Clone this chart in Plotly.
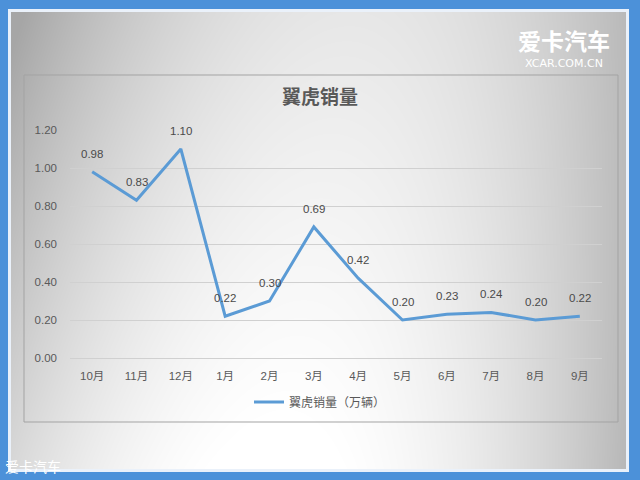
import base64
import struct
import zlib
import numpy as np
import plotly.graph_objects as go

# ---- data ----
months = ["10月", "11月", "12月", "1月", "2月", "3月", "4月", "5月", "6月", "7月", "8月", "9月"]
sales = [0.98, 0.83, 1.10, 0.22, 0.30, 0.69, 0.42, 0.20, 0.23, 0.24, 0.20, 0.22]
series_name = "翼虎销量（万辆）"
chart_title = "翼虎销量"
y_ticks = [0.0, 0.2, 0.4, 0.6, 0.8, 1.0, 1.2]

# ---- geometry helpers (page pixels -> paper coords) ----
W, H = 640, 480
L, R, T, B = 70, 602, 130, 358


def px(x):
    return (x - L) / (R - L)


def py(y):
    return (B - y) / (B - T)


FONT = "Liberation Sans, Noto Sans CJK SC, sans-serif"
CJK = "Noto Sans CJK SC, sans-serif"
TXT = "#595959"

# ---- background gradient panel (smooth grey -> white -> grey) ----
PX0, PY0, PX1, PY1 = 8, 9, 629, 472
bg_samples = np.array([
    (12, 12, 169), (300, 20, 213), (460, 40, 240), (610, 30, 184),
    (20, 250, 192), (320, 250, 255), (610, 250, 174), (40, 450, 229),
    (320, 455, 245), (620, 460, 192), (150, 130, 208), (500, 150, 245),
    (560, 350, 208), (200, 380, 245), (450, 400, 245),
], dtype=float)


def _design(x, y):
    x = x / 640.0
    y = y / 480.0
    return np.stack([np.ones_like(x), x, y, x * x, y * y, x * y], axis=-1)


coef, *_ = np.linalg.lstsq(_design(bg_samples[:, 0], bg_samples[:, 1]), bg_samples[:, 2], rcond=None)
gx, gy = np.meshgrid(np.arange(PX0, PX1) + 0.5, np.arange(PY0, PY1) + 0.5)
grey = np.clip(_design(gx, gy) @ coef, 166, 255).astype(np.uint8)


def png_gray(a):
    h, w = a.shape
    raw = b"".join(b"\x00" + a[i].tobytes() for i in range(h))

    def chunk(t, d):
        c = struct.pack(">I", len(d)) + t + d
        return c + struct.pack(">I", zlib.crc32(t + d) & 0xFFFFFFFF)

    return (b"\x89PNG\r\n\x1a\n" + chunk(b"IHDR", struct.pack(">IIBBBBB", w, h, 8, 0, 0, 0, 0))
            + chunk(b"IDAT", zlib.compress(raw, 9)) + chunk(b"IEND", b""))


src = "data:image/png;base64," + base64.b64encode(png_gray(grey)).decode()

fig = go.Figure()
fig.add_trace(go.Scatter(
    x=months, y=sales, mode="lines", name=series_name,
    line=dict(color="#5B9BD5", width=3), showlegend=True,
))

for m, v in zip(months, sales):
    fig.add_annotation(x=m, y=v, text=f"{v:.2f}", showarrow=False, yshift=18,
                       xanchor="center", yanchor="middle",
                       font=dict(family=FONT, size=11.5, color="#4A4A4A"))

# watermarks
fig.add_annotation(xref="paper", yref="paper", x=px(564), y=py(40), text="<b>爱卡汽车</b>",
                   showarrow=False, xanchor="center", yanchor="middle",
                   font=dict(family=CJK, size=23, color="#FFFFFF"))
fig.add_annotation(xref="paper", yref="paper", x=px(564), y=py(63), text="XCAR.COM.CN",
                   showarrow=False, xanchor="center", yanchor="middle",
                   font=dict(family="DejaVu Sans, sans-serif", size=11, color="#FFFFFF"))
fig.add_annotation(xref="paper", yref="paper", x=px(33), y=py(466), text="爱卡汽车",
                   showarrow=False, xanchor="center", yanchor="middle",
                   font=dict(family=CJK, size=14, color="#FFFFFF"))

fig.add_layout_image(dict(source=src, xref="paper", yref="paper", x=px(PX0), y=py(PY0),
                          sizex=px(PX1) - px(PX0), sizey=py(PY0) - py(PY1), sizing="stretch",
                          xanchor="left", yanchor="top", layer="below"))

fig.add_shape(type="rect", xref="paper", yref="paper", x0=px(9.5), x1=px(627.5), y0=py(10.5), y1=py(470.5),
              line=dict(color="#EAF1FA", width=3), layer="below")
fig.add_shape(type="rect", xref="paper", yref="paper", x0=px(24), x1=px(618), y0=py(75), y1=py(422),
              line=dict(color="#A3A3A3", width=1), layer="below")

fig.update_layout(
    width=W, height=H,
    margin=dict(l=L, r=W - R, t=T, b=H - B, autoexpand=False),
    paper_bgcolor="#4C91D9",
    plot_bgcolor="rgba(0,0,0,0)",
    title=dict(text="<b>" + chart_title + "</b>", x=0.5, xref="container", xanchor="center",
               y=1 - 97 / H, yref="container", yanchor="middle",
               font=dict(family=CJK, size=19, color=TXT)),
    legend=dict(orientation="h", xref="container", yref="container", x=0.5, xanchor="center",
                y=1 - 402 / H, yanchor="middle", bgcolor="rgba(0,0,0,0)",
                font=dict(family=CJK, size=12, color=TXT)),
    xaxis=dict(type="category", range=[-0.5, len(months) - 0.5], showgrid=False, showline=False,
               zeroline=False, ticks="", ticklabelstandoff=9, automargin=False,
               tickfont=dict(family=FONT, size=11.5, color=TXT)),
    yaxis=dict(range=[0, 1.2], tickvals=y_ticks, tickformat=".2f", showgrid=True, gridcolor="#D0D0D0",
               gridwidth=1, zeroline=True, zerolinecolor="#D0D0D0", zerolinewidth=1, showline=False,
               ticks="", ticklabelstandoff=12, automargin=False,
               tickfont=dict(family=FONT, size=11.5, color=TXT)),
)

fig.write_html("out.html", config={"displayModeBar": False},
               post_script="document.body.style.margin='0px';document.body.style.overflow='hidden';")
